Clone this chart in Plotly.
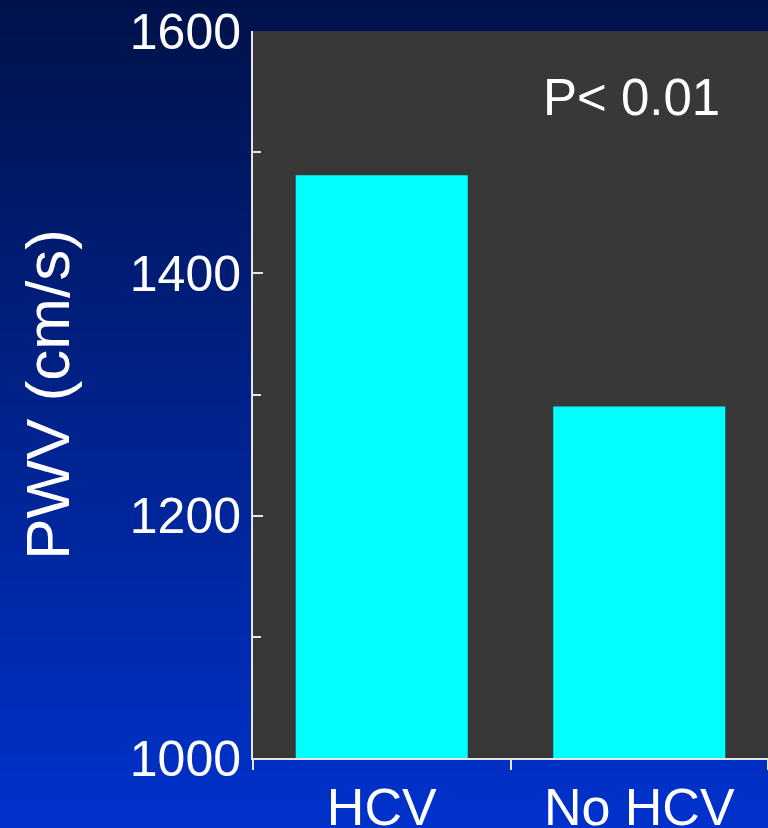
import plotly.graph_objects as go

categories = ["HCV", "No HCV"]
pwv_values = [1481, 1290]
y_tick_values = [1000, 1200, 1400, 1600]
y_tick_labels = ["1000", "1200", "1400", "1600"]
y_title = "PWV (cm/s)"
p_text = "P< 0.01"

W, H = 768, 828
ML, MR, MT, MB = 253, 0, 31, 70

fig = go.Figure(go.Bar(
    x=categories, y=pwv_values,
    marker=dict(color="#00FFFF", line=dict(width=0)),
    width=0.668,
))

# vertical gradient background (paper coords spanning the whole figure)
ph = H - MT - MB
pw = W - ML - MR
top_c = (0, 18, 74)
bot_c = (0, 50, 204)
n = 90
shapes = []
for i in range(n):
    py0 = H * i / n
    py1 = H * (i + 1) / n + 1
    t = (i + 0.5) / n
    c = tuple(int(round(top_c[k] + (bot_c[k] - top_c[k]) * t)) for k in range(3))
    shapes.append(dict(
        type="rect", xref="paper", yref="paper", layer="below",
        x0=-ML / pw - 0.05, x1=1.05,
        y0=(H - MB - py1) / ph, y1=(H - MB - py0) / ph,
        fillcolor="rgb(%d,%d,%d)" % c, line=dict(width=0),
    ))
shapes.append(dict(
    type="rect", xref="x domain", yref="y domain", layer="below",
    x0=0, x1=1, y0=0, y1=1, fillcolor="#383838", line=dict(width=0),
))

font_family = "Liberation Sans, Arial, sans-serif"

fig.update_layout(
    width=W, height=H,
    margin=dict(l=ML, r=MR, t=MT, b=MB, pad=0, autoexpand=False),
    paper_bgcolor="rgb(0,40,170)",
    plot_bgcolor="#383838",
    showlegend=False,
    shapes=shapes,
    font=dict(family=font_family, color="white"),
    xaxis=dict(
        type="category", range=[-0.5, 1.5], automargin=False,
        tickson="boundaries", ticks="outside", ticklen=10, tickwidth=2,
        tickcolor="#e6e6e6",
        showline=True, linecolor="#e6e6e6", linewidth=2,
        showgrid=False, zeroline=False,
        ticklabelstandoff=3,
        tickfont=dict(size=52, color="white", family=font_family),
    ),
    yaxis=dict(
        range=[1000, 1600], automargin=False,
        tickmode="array", tickvals=y_tick_values, ticktext=y_tick_labels,
        ticks="inside", ticklen=10, tickwidth=2, tickcolor="#e6e6e6",
        minor=dict(dtick=100, ticks="inside", ticklen=8, tickwidth=2, tickcolor="#e6e6e6"),
        showline=True, linecolor="#e6e6e6", linewidth=2,
        showgrid=False, zeroline=False,
        tickfont=dict(size=50, color="white", family=font_family),
        title=dict(text=y_title, font=dict(size=62, color="white", family=font_family), standoff=40),
    ),
    annotations=[dict(
        text=p_text, xref="paper", yref="paper", x=0.734, y=0.908,
        xanchor="center", yanchor="middle", showarrow=False,
        font=dict(size=51, color="white", family=font_family),
    )],
)

fig.write_html(
    "out.html",
    config={"displayModeBar": False},
    post_script="document.body.style.margin='0px';document.body.style.overflow='hidden';",
)
